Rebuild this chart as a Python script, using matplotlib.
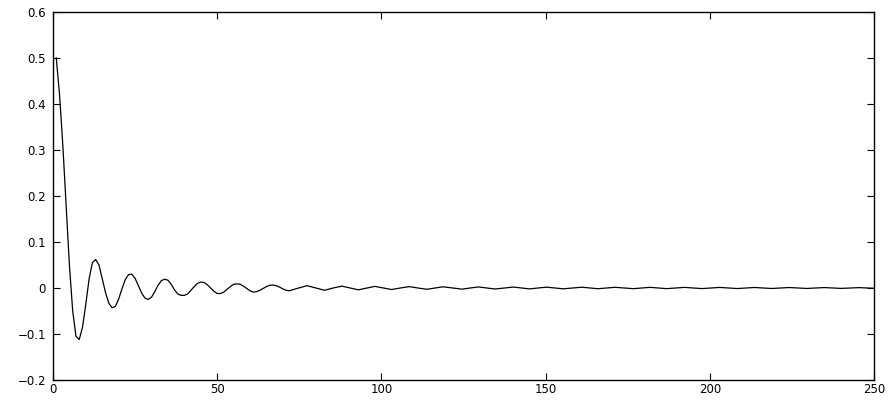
import matplotlib
matplotlib.use("Agg")
import matplotlib.pyplot as plt

# samples: dense part (one per step, starting at n = 1)
head_y = [0.500, 0.420, 0.310, 0.180, 0.050, -0.050, -0.105, -0.112, -0.085, -0.035,
          0.020, 0.055, 0.062, 0.050, 0.020, -0.010, -0.033, -0.043, -0.040, -0.024,
          -0.002, 0.018, 0.029, 0.030, 0.021, 0.005, -0.011, -0.022, -0.025, -0.020,
          -0.008, 0.006, 0.016, 0.019, 0.017, 0.008, -0.004, -0.013, -0.016, -0.016,
          -0.013, -0.005, 0.003, 0.010, 0.013, 0.012, 0.007, 0.000, -0.007, -0.012,
          -0.012, -0.009, -0.003, 0.003, 0.008, 0.009, 0.008, 0.004, -0.001, -0.006,
          -0.009, -0.008, -0.005, -0.001, 0.003, 0.006, 0.0065, 0.005, 0.002, -0.002,
          -0.005, -0.006]
head_x = list(range(1, len(head_y) + 1))

# tail: peaks, troughs and zero crossings
tail_x = [74.8, 77.4, 80.0, 82.7, 85.3, 88.0, 90.5, 93.0, 95.6, 98.0,
          100.6, 103.1, 105.8, 108.5, 111.1, 113.8, 116.3, 118.8, 121.6, 124.5,
          127.0, 129.5, 132.0, 134.6, 137.4, 140.2, 142.7, 145.2, 147.7, 150.3,
          152.8, 155.4, 158.2, 161.0, 163.5, 166.0, 168.5, 171.1, 173.9, 176.7,
          179.2, 181.8, 184.3, 186.9, 189.6, 192.3, 195.0, 197.6, 200.3, 203.0,
          205.6, 208.4, 211.0, 213.6, 216.2, 218.8, 221.5, 224.2, 226.8, 229.5,
          232.1, 234.8, 237.5, 240.1, 242.7, 245.4, 248.0, 250.0]
tail_y = [0.0, 0.0050, 0.0, -0.0050, 0.0, 0.0040, 0.0, -0.0040, 0.0, 0.0035,
          0.0, -0.0033, 0.0, 0.0030, 0.0, -0.0028, 0.0, 0.0026, 0.0, -0.0025,
          0.0, 0.0023, 0.0, -0.0022, 0.0, 0.0020, 0.0, -0.0020, 0.0, 0.0018,
          0.0, -0.0018, 0.0, 0.0017, 0.0, -0.0016, 0.0, 0.0015, 0.0, -0.0015,
          0.0, 0.0014, 0.0, -0.0014, 0.0, 0.0013, 0.0, -0.0013, 0.0, 0.0012,
          0.0, -0.0012, 0.0, 0.0011, 0.0, -0.0011, 0.0, 0.0010, 0.0, -0.0010,
          0.0, 0.0009, 0.0, -0.0009, 0.0, 0.0008, 0.0, -0.0006]

xticks = [0, 50, 100, 150, 200, 250]
yticks = [-0.2, -0.1, 0, 0.1, 0.2, 0.3, 0.4, 0.5, 0.6]
ytick_labels = ["\u22120.2", "\u22120.1", "0", "0.1", "0.2", "0.3", "0.4", "0.5", "0.6"]

plt.rcParams["font.family"] = ["DejaVu Sans"]

fig = plt.figure(figsize=(8.92, 4.01), dpi=100)
ax = fig.add_axes([0.0594, 0.0524, 0.9204, 0.9177])

ax.plot(head_x + tail_x, head_y + tail_y, color="black", linewidth=0.9)

ax.set_xlim(0, 250)
ax.set_ylim(-0.2, 0.6)
ax.set_xticks(xticks)
ax.set_xticklabels([str(t) for t in xticks])
ax.set_yticks(yticks)
ax.set_yticklabels(ytick_labels)

ax.tick_params(direction="in", length=5, width=0.8, top=True, right=True,
               labelsize=8.5, colors="black")
ax.tick_params(axis="x", pad=2)
ax.tick_params(axis="y", pad=5)
for s in ax.spines.values():
    s.set_linewidth(1.0)

fig.savefig("out.png", dpi=100)
